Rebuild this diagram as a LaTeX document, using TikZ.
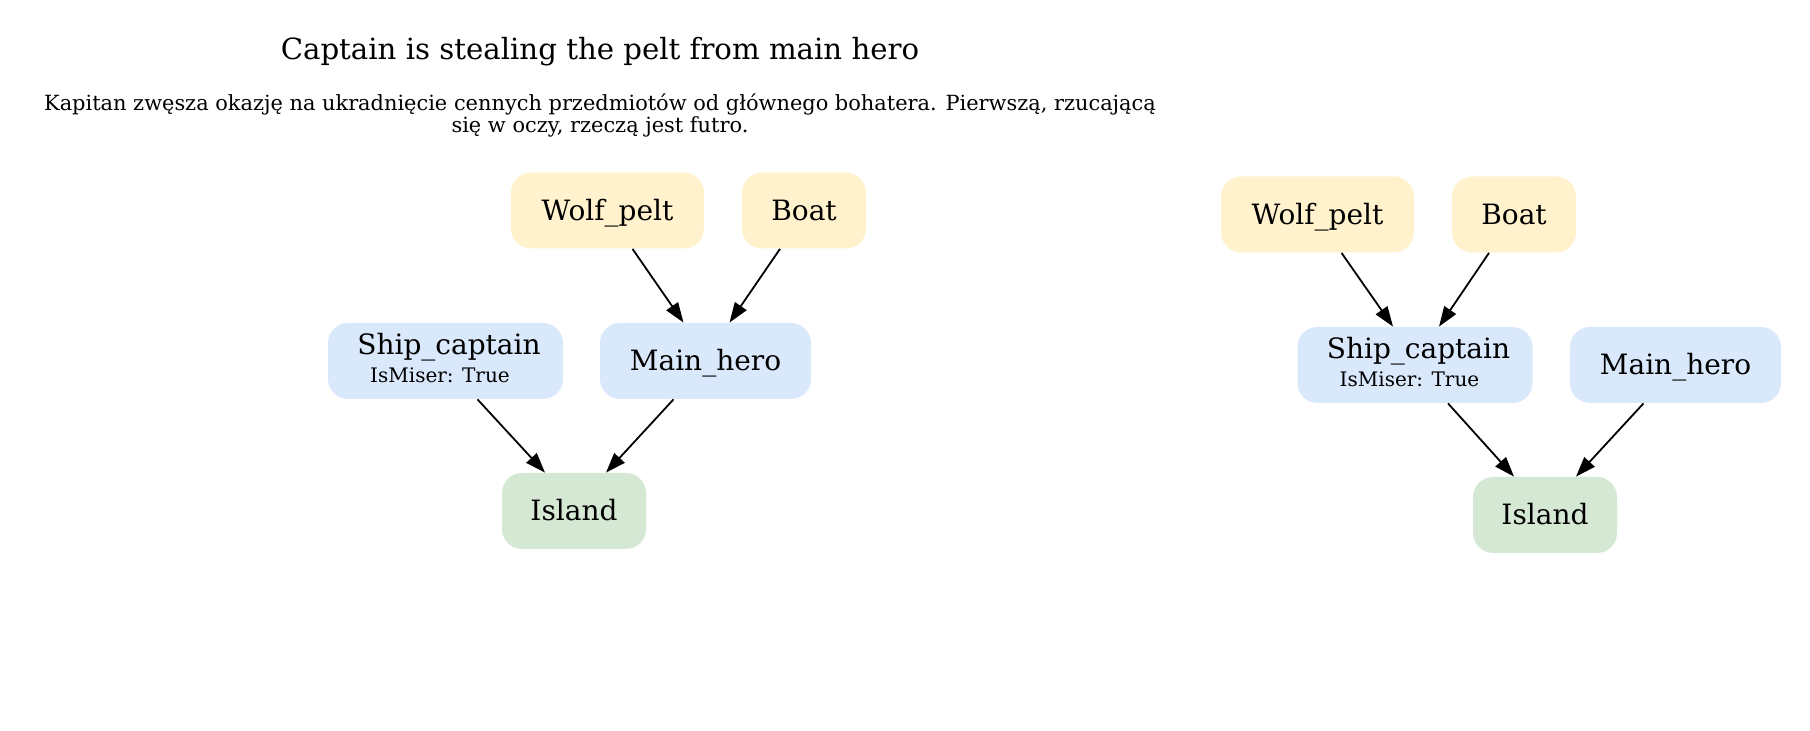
\documentclass[tikz,border=0pt]{standalone}
\usepackage{fontspec}
\setmainfont{DejaVu Serif}
\usetikzlibrary{arrows.meta}
\definecolor{itemfill}{HTML}{FFF2CC}
\definecolor{personfill}{HTML}{DAE8FC}
\definecolor{placefill}{HTML}{D5E8D4}

\begin{document}
\begin{tikzpicture}[x=0.5pt, y=-0.5pt,
    box/.style={rounded corners=10pt, minimum height=38pt, inner sep=0pt,
      align=center, font=\fontsize{14}{17}\selectfont, text height=13pt, text depth=3.2pt},
    twoline/.style={text height=, text depth=},
    item/.style={box, fill=itemfill},
    person/.style={box, fill=personfill},
    place/.style={box, fill=placefill},
    link/.style={-{Triangle[length=10pt,width=7pt]}, line width=0.9pt}]
          \useasboundingbox (0,0) rectangle (1810,731);
          \node[anchor=base, font=\fontsize{14.6}{17}\selectfont] (title) at (600,60)
            {Captain is stealing the pelt from main hero};
          \node[anchor=base, align=center, font=\fontsize{10.45}{11}\selectfont] (desc) at (600,132.5)
            {Kapitan zwęsza okazję na ukradnięcie cennych przedmiotów od głównego bohatera. Pierwszą, rzucającą\\
             się w oczy, rzeczą jest futro.};
          % Left graph
          \node[item, minimum width=96.5pt] (wolfA) at (607.5,210.5) {Wolf\_pelt};
          \node[item, minimum width=62pt] (boatA) at (804,210.5) {Boat};
          \node[person, twoline, minimum width=117.5pt] (shipA) at (445.5,361)
            {\hspace{3.5pt}Ship\_captain\\[-3pt]{\fontsize{10}{12}\selectfont IsMiser: True}\hspace{5.5pt}\rule[-3.5pt]{0pt}{3.5pt}};
          \node[person, minimum width=105.5pt] (heroA) at (705.5,361) {Main\_hero};
          \node[place, minimum width=72pt] (islandA) at (574,511) {Island};
          \draw[link] ([xshift=12.5pt]wolfA.south) -- ([xshift=-11pt]heroA.north);
          \draw[link] ([xshift=-12pt]boatA.south) -- ([xshift=12pt]heroA.north);
          \draw[link] ([xshift=16pt]shipA.south) -- ([xshift=-14.5pt]islandA.north);
          \draw[link] ([xshift=-16pt]heroA.south) -- ([xshift=16pt]islandA.north);
          % Right graph
          \node[item, minimum width=96.5pt] (wolfB) at (1317.5,214.5) {Wolf\_pelt};
          \node[item, minimum width=62pt] (boatB) at (1514,214.5) {Boat};
          \node[person, twoline, minimum width=117.5pt] (shipB) at (1415,365)
            {\hspace{3.5pt}Ship\_captain\\[-3pt]{\fontsize{10}{12}\selectfont IsMiser: True}\hspace{5.5pt}\rule[-3.5pt]{0pt}{3.5pt}};
          \node[person, minimum width=105.5pt] (heroB) at (1675.5,365) {Main\_hero};
          \node[place, minimum width=72pt] (islandB) at (1545,515) {Island};
          \draw[link] ([xshift=12pt]wolfB.south) -- ([xshift=-11pt]shipB.north);
          \draw[link] ([xshift=-12.5pt]boatB.south) -- ([xshift=12pt]shipB.north);
          \draw[link] ([xshift=16.5pt]shipB.south) -- ([xshift=-15.5pt]islandB.north);
          \draw[link] ([xshift=-16pt]heroB.south) -- ([xshift=15.5pt]islandB.north);
        \end{tikzpicture}
\end{document}
